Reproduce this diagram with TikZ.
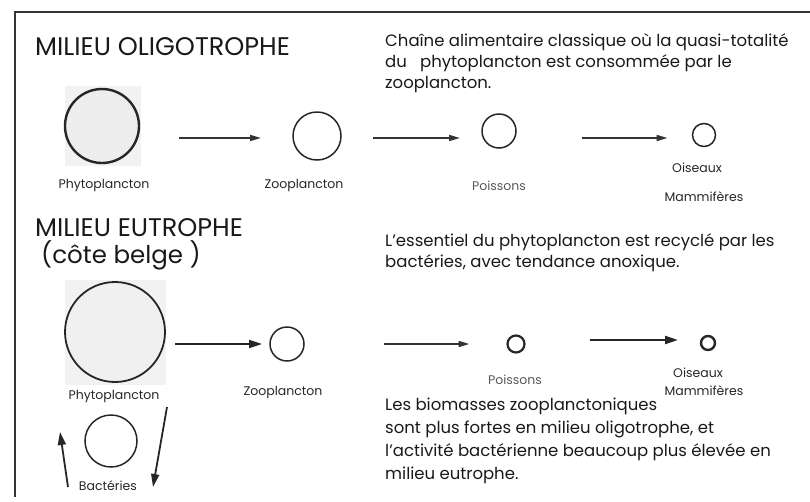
\documentclass[tikz,border=0pt]{standalone}
\usepackage{fontspec}
\setmainfont{Poppins}
\usetikzlibrary{arrows.meta,calc}
\begin{document}
\begin{tikzpicture}[x=1pt,y=-1pt,
  circ/.style={circle,draw=black!85,line width=1.5pt,inner sep=0pt,outer sep=0pt},
  lbl/.style={font=\fontsize{12.5}{14}\selectfont,inner sep=0pt,text=black!85},
  body/.style={font=\fontsize{16.5}{21}\selectfont,align=left,anchor=base west,inner sep=0pt,text=black!90},
  ttl/.style={font=\fontsize{25.5}{30}\selectfont,anchor=base west,inner sep=0pt,text=black!90},
  arr/.style={line width=1.8pt,draw=black!80,-{Triangle[length=11pt,width=6pt]}},
  bigarr/.style={line width=1.8pt,draw=black!85,-{Triangle[length=13pt,width=8pt]}},
]
\useasboundingbox (0,0) rectangle (810,501);
\draw[line width=1.5pt,black!80] (15,497) -- (15,12) -- (810,12);

% titles
\node[ttl] (t1) at (35,55) {MILIEU OLIGOTROPHE};
\node[ttl] (t2) at (35,236) {MILIEU EUTROPHE};
\node[ttl,font=\fontsize{24.5}{30}\selectfont] (t3) at (41,263) {(côte belge )};

% paragraphs (anchor = baseline of last line)
\node[body] (p1txt) at (385,88) {Chaîne alimentaire classique où la quasi-totalité\\du \ \ phytoplancton est consommée par le\\zooplancton.};
\node[body] (p2txt) at (385,267) {L'essentiel du phytoplancton est recyclé par les\\bactéries, avec tendance anoxique.};
\node[body,font=\fontsize{16.5}{22.7}\selectfont] (p3txt) at (385,479) {Les biomasses zooplanctoniques\\sont plus fortes en milieu oligotrophe, et\\l'activité bactérienne beaucoup plus élevée en\\milieu eutrophe.};

% row 1
\coordinate (lvl1) at (0,138);
\fill[black!5] (65,86) rectangle (141,166);
\node[circ,fill=black!7,line width=2.4pt,minimum size=74pt] (phy1) at (102,126) {};
\node[circ,minimum size=48pt] (zoo1) at (317,136) {};
\node[circ,minimum size=34pt] (poi1) at (499,131) {};
\node[circ,minimum size=23pt] (ois1) at (704,135) {};
\node[lbl] (lphy1) at (104,185) {Phytoplancton};
\node[lbl] (lzoo1) at (304,185) {Zooplancton};
\node[lbl,text=black!65] (lpoi1) at (499,186) {Poissons};
\node[lbl] (lois1) at (697,168) {Oiseaux};
\node[lbl] (lmam1) at (704,197) {Mammifères};
\draw[arr] ($(phy1.east |- lvl1)+(40,0)$) -- ($(zoo1.west |- lvl1)+(-32,0)$);
\draw[arr] ($(zoo1.east |- lvl1)+(32,0)$) -- ($(poi1.west |- lvl1)+(-22,0)$);
\draw[arr] ($(poi1.east |- lvl1)+(66,0)$) -- ($(ois1.west |- lvl1)+(-25,0)$);

% row 2
\fill[black!5] (65,280) rectangle (166,385);
\node[circ,fill=black!6,line width=1.8pt,minimum size=100pt] (phy2) at (115,332) {};
\node[circ,minimum size=34pt] (zoo2) at (287,344) {};
\node[circ,line width=2.2pt,minimum size=17pt] (poi2) at (516,344) {};
\node[circ,line width=2.4pt,minimum size=14pt] (ois2) at (708,343) {};
\node[circ,minimum size=52pt] (bac) at (111,441) {};
\node[lbl] (lphy2) at (114,396) {Phytoplancton};
\node[lbl] (lzoo2) at (283,392) {Zooplancton};
\node[lbl,text=black!65] (lpoi2) at (515,380) {Poissons};
\node[lbl] (lois2) at (698,373) {Oiseaux};
\node[lbl] (lmam2) at (704,391) {Mammifères};
\node[lbl] (lbac) at (108,486) {Bactéries};
\draw[bigarr] ($(phy2.east |- zoo2.west)+(10,0)$) -- ($(zoo2.west)+(-8,0)$);
\draw[arr] ($(zoo2.east)+(80,0)$) -- ($(poi2.west)+(-38,0)$);
\draw[bigarr,line width=2.2pt] ($(poi2.east)+(65,-4)$) -- ($(ois2.west)+(-23,-3)$);
\draw[bigarr] ($(bac.center)+(-43,46)$) -- ($(bac.center)+(-51,-9)$);
\draw[bigarr] ($(bac.center)+(56,-34)$) -- ($(bac.center)+(42,46)$);
\end{tikzpicture}
\end{document}
